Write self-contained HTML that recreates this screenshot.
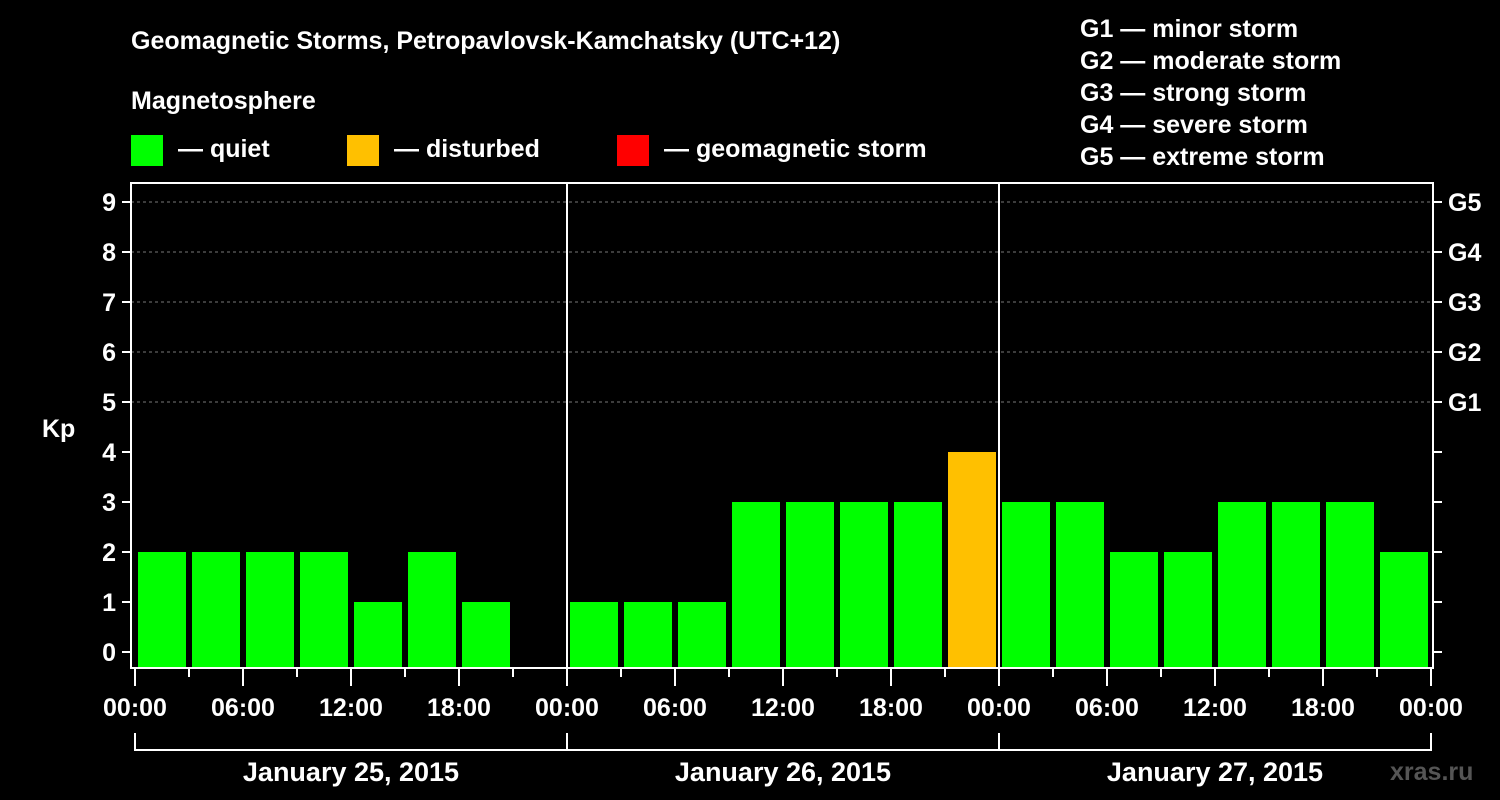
<!DOCTYPE html>
<html><head><meta charset="utf-8"><style>
html,body{margin:0;padding:0;background:#000;}
svg{display:block;font-family:"Liberation Sans",Arial,sans-serif;font-weight:bold;}
</style></head><body>
<svg id="chart" width="1500" height="800" viewBox="0 0 1500 800">
<rect width="1500" height="800" fill="#000"/>
<text x="131" y="49" fill="#fff" font-size="25">Geomagnetic Storms, Petropavlovsk-Kamchatsky (UTC+12)</text>
<text x="131" y="109" fill="#fff" font-size="25">Magnetosphere</text>
<g><rect x="131" y="135" width="32" height="31" fill="#00ff00"/><text x="178" y="157" fill="#fff" font-size="25">— quiet</text></g>
<g><rect x="347" y="135" width="32" height="31" fill="#ffc000"/><text x="394" y="157" fill="#fff" font-size="25">— disturbed</text></g>
<g><rect x="617" y="135" width="32" height="31" fill="#ff0000"/><text x="664" y="157" fill="#fff" font-size="25">— geomagnetic storm</text></g>
<g fill="#fff" font-size="25">
<text x="1080" y="37">G1 — minor storm</text>
<text x="1080" y="69">G2 — moderate storm</text>
<text x="1080" y="101">G3 — strong storm</text>
<text x="1080" y="133">G4 — severe storm</text>
<text x="1080" y="165">G5 — extreme storm</text>
</g>
<g id="plot"></g>
<text x="1390" y="780" fill="#555" font-size="25">xras.ru</text>
</svg>
<script>
const kpValues = [2,2,2,2,1,2,1,0, 1,1,1,3,3,3,3,4, 3,3,2,2,3,3,3,2];
const dayLabels = ["January 25, 2015","January 26, 2015","January 27, 2015"];
const hourLabels = ["00:00","06:00","12:00","18:00"];
const yTicks = [0,1,2,3,4,5,6,7,8,9];
const gLabels = ["G1","G2","G3","G4","G5"];

const NS="http://www.w3.org/2000/svg";
const g=document.getElementById('plot');
const x0=135, slot=54, L=131, R=1433, T=183, B=668;
const xS=i=>x0+i*slot;
const yS=v=>652-v*50;
function el(t,a,p){const e=document.createElementNS(NS,t);for(const k in a)e.setAttribute(k,a[k]);(p||g).appendChild(e);return e;}
// grid
yTicks.forEach(v=>{if(v>=5){const l=el('line',{x1:L,x2:R,y1:yS(v),y2:yS(v),stroke:'#777','stroke-dasharray':'3,3'});

}});
// bars
kpValues.forEach((v,i)=>{if(v<=0)return;
const r=el('rect',{x:xS(i)+3,y:yS(v),width:48,height:B-yS(v),fill:v>=5?'#ff0000':(v>=4?'#ffc000':'#00ff00')});

});
// frame
const f=el('rect',{x:L,y:T,width:R-L,height:B-T,fill:'none',stroke:'#fff','stroke-width':2});


[1,2].forEach(d=>{const l=el('line',{x1:xS(d*8),x2:xS(d*8),y1:T,y2:B,stroke:'#fff','stroke-width':2});

});
// y ticks
yTicks.forEach(v=>{
el('line',{x1:122,x2:L,y1:yS(v),y2:yS(v),stroke:'#fff','stroke-width':2});
el('line',{x1:R,x2:1442,y1:yS(v),y2:yS(v),stroke:'#fff','stroke-width':2});
const t=el('text',{x:116,y:yS(v)+9,fill:'#fff','font-size':25,'text-anchor':'end'});t.textContent=v;

});
gLabels.forEach((s,i)=>{const t=el('text',{x:1448,y:yS(5+i)+9,fill:'#fff','font-size':25});t.textContent=s;

});
const kp=el('text',{x:42,y:437,fill:'#fff','font-size':25});kp.textContent='Kp';


// x ticks
for(let i=0;i<=24;i++){const maj=i%2===0;
el('line',{x1:xS(i),x2:xS(i),y1:B+1,y2:maj?686:677,stroke:'#fff','stroke-width':2});
if(maj){const t=el('text',{x:xS(i),y:716,fill:'#fff','font-size':25,'text-anchor':'middle'});t.textContent=hourLabels[(i/2)%4];

}}
// day brackets
dayLabels.forEach((s,d)=>{const a=xS(d*8),b=xS(d*8+8);
el('polyline',{points:`${a},733 ${a},750 ${b},750 ${b},733`,fill:'none',stroke:'#fff','stroke-width':2});
const t=el('text',{x:(a+b)/2,y:781,fill:'#fff','font-size':27,'text-anchor':'middle'});t.textContent=s;

});
</script>
</body></html>
